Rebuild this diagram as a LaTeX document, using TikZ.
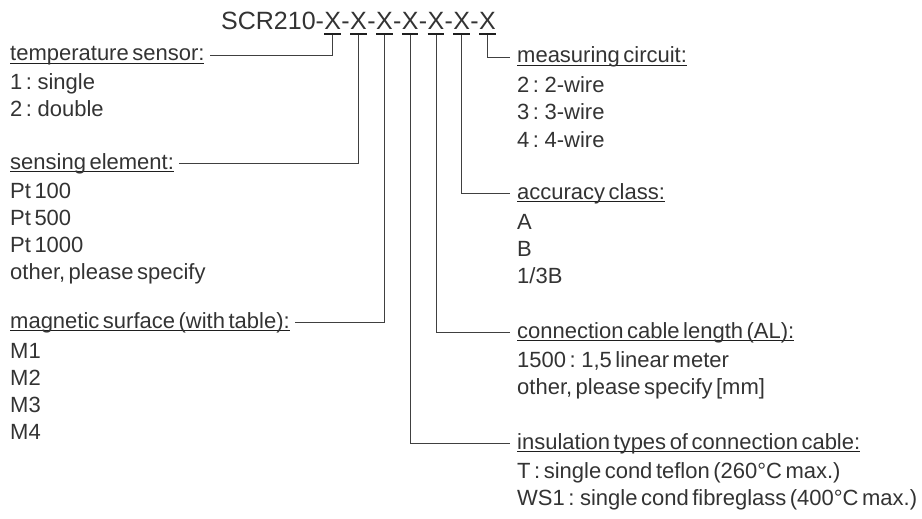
\documentclass[tikz,border=0pt]{standalone}
\usepackage{fontspec}
\setmainfont{Liberation Sans}
\definecolor{txt}{gray}{0.2}
\definecolor{ulc}{gray}{0.12}
\definecolor{wire}{gray}{0.25}
\newcommand\ulhead[1]{\setbox0=\hbox{#1}\rlap{\textcolor{ulc}{\rule[-3.2pt]{\wd0}{1.3pt}}}\box0}
\newcommand\ulx[1]{\setbox0=\hbox{#1}\rlap{\textcolor{ulc}{\rule[-4.6pt]{\wd0}{2pt}}}\box0}
\newcommand\bodyfont{\fontsize{22}{27}\selectfont\spaceskip=0.16em\relax}
\tikzset{
  body/.style={anchor=base west, inner sep=0pt, text=txt, font=\bodyfont, text height=16pt, text depth=5pt},
  hdr/.style={anchor=base west, inner sep=0pt, text=txt, font=\fontsize{25}{30}\selectfont},
  wireline/.style={draw=wire, line width=0.9pt}
}
\begin{document}
\begin{tikzpicture}[x=1pt,y=-1pt]
\useasboundingbox (0,0) rectangle (922,519);
% header code
\node[hdr] (h0) at (221,30) {SCR210-};
\node[hdr, at=(h0.base east)] (x1) {\ulx{X}};
\node[hdr, at=(x1.base east)] (d1) {-};
\node[hdr, at=(d1.base east)] (x2) {\ulx{X}};
\node[hdr, at=(x2.base east)] (d2) {-};
\node[hdr, at=(d2.base east)] (x3) {\ulx{X}};
\node[hdr, at=(x3.base east)] (d3) {-};
\node[hdr, at=(d3.base east)] (x4) {\ulx{X}};
\node[hdr, at=(x4.base east)] (d4) {-};
\node[hdr, at=(d4.base east)] (x5) {\ulx{X}};
\node[hdr, at=(x5.base east)] (d5) {-};
\node[hdr, at=(d5.base east)] (x6) {\ulx{X}};
\node[hdr, at=(x6.base east)] (d6) {-};
\node[hdr, at=(d6.base east)] (x7) {\ulx{X}};
% left column
\node[body] (temp) at (10,61) {\ulhead{temperature sensor:}};
\node[body] (temp1) at (10,90) {1 : single};
\node[body] (temp2) at (10,117) {2 : double};
\node[body] (sens) at (10,169) {\ulhead{sensing element:}};
\node[body] (sens1) at (10,198) {Pt 100};
\node[body] (sens2) at (10,225) {Pt 500};
\node[body] (sens3) at (10,252) {Pt 1000};
\node[body] (sens4) at (10,279) {other, please specify};
\node[body] (magn) at (10,328) {\ulhead{magnetic surface (with table):}};
\node[body] (magn1) at (10,358) {M1};
\node[body] (magn2) at (10,385) {M2};
\node[body] (magn3) at (10,412) {M3};
\node[body] (magn4) at (10,439) {M4};
% right column
\node[body] (meas) at (517,63) {\ulhead{measuring circuit:}};
\node[body] (meas1) at (517,93) {2 : 2-wire};
\node[body] (meas2) at (517,120) {3 : 3-wire};
\node[body] (meas3) at (517,147) {4 : 4-wire};
\node[body] (accu) at (517,199) {\ulhead{accuracy class:}};
\node[body] (accu1) at (517,229) {A};
\node[body] (accu2) at (517,256) {B};
\node[body] (accu3) at (517,283) {1/3B};
\node[body] (cable) at (517,338) {\ulhead{connection cable length (AL):}};
\node[body] (cable1) at (517,367) {1500 : 1,5 linear meter};
\node[body] (cable2) at (517,394) {other, please specify [mm]};
\node[body] (insu) at (517,449) {\ulhead{insulation types of connection cable:}};
\node[body] (insu1) at (517,478) {T : single cond teflon (260°C max.)};
\node[body] (insu2) at (517,505) {WS1 : single cond fibreglass (400°C max.)};
% connectors
\draw[wireline] (x1.south) |- ([xshift=5pt]temp.east);
\draw[wireline] (x2.south) |- ([xshift=5pt]sens.east);
\draw[wireline] (x3.south) |- ([xshift=5pt]magn.east);
\draw[wireline] (x4.south) |- ([xshift=-7pt]insu.west);
\draw[wireline] (x5.south) |- ([xshift=-7pt]cable.west);
\draw[wireline] (x6.south) |- ([xshift=-7pt]accu.west);
\draw[wireline] (x7.south) |- ([xshift=-7pt]meas.west);
\end{tikzpicture}
\end{document}
